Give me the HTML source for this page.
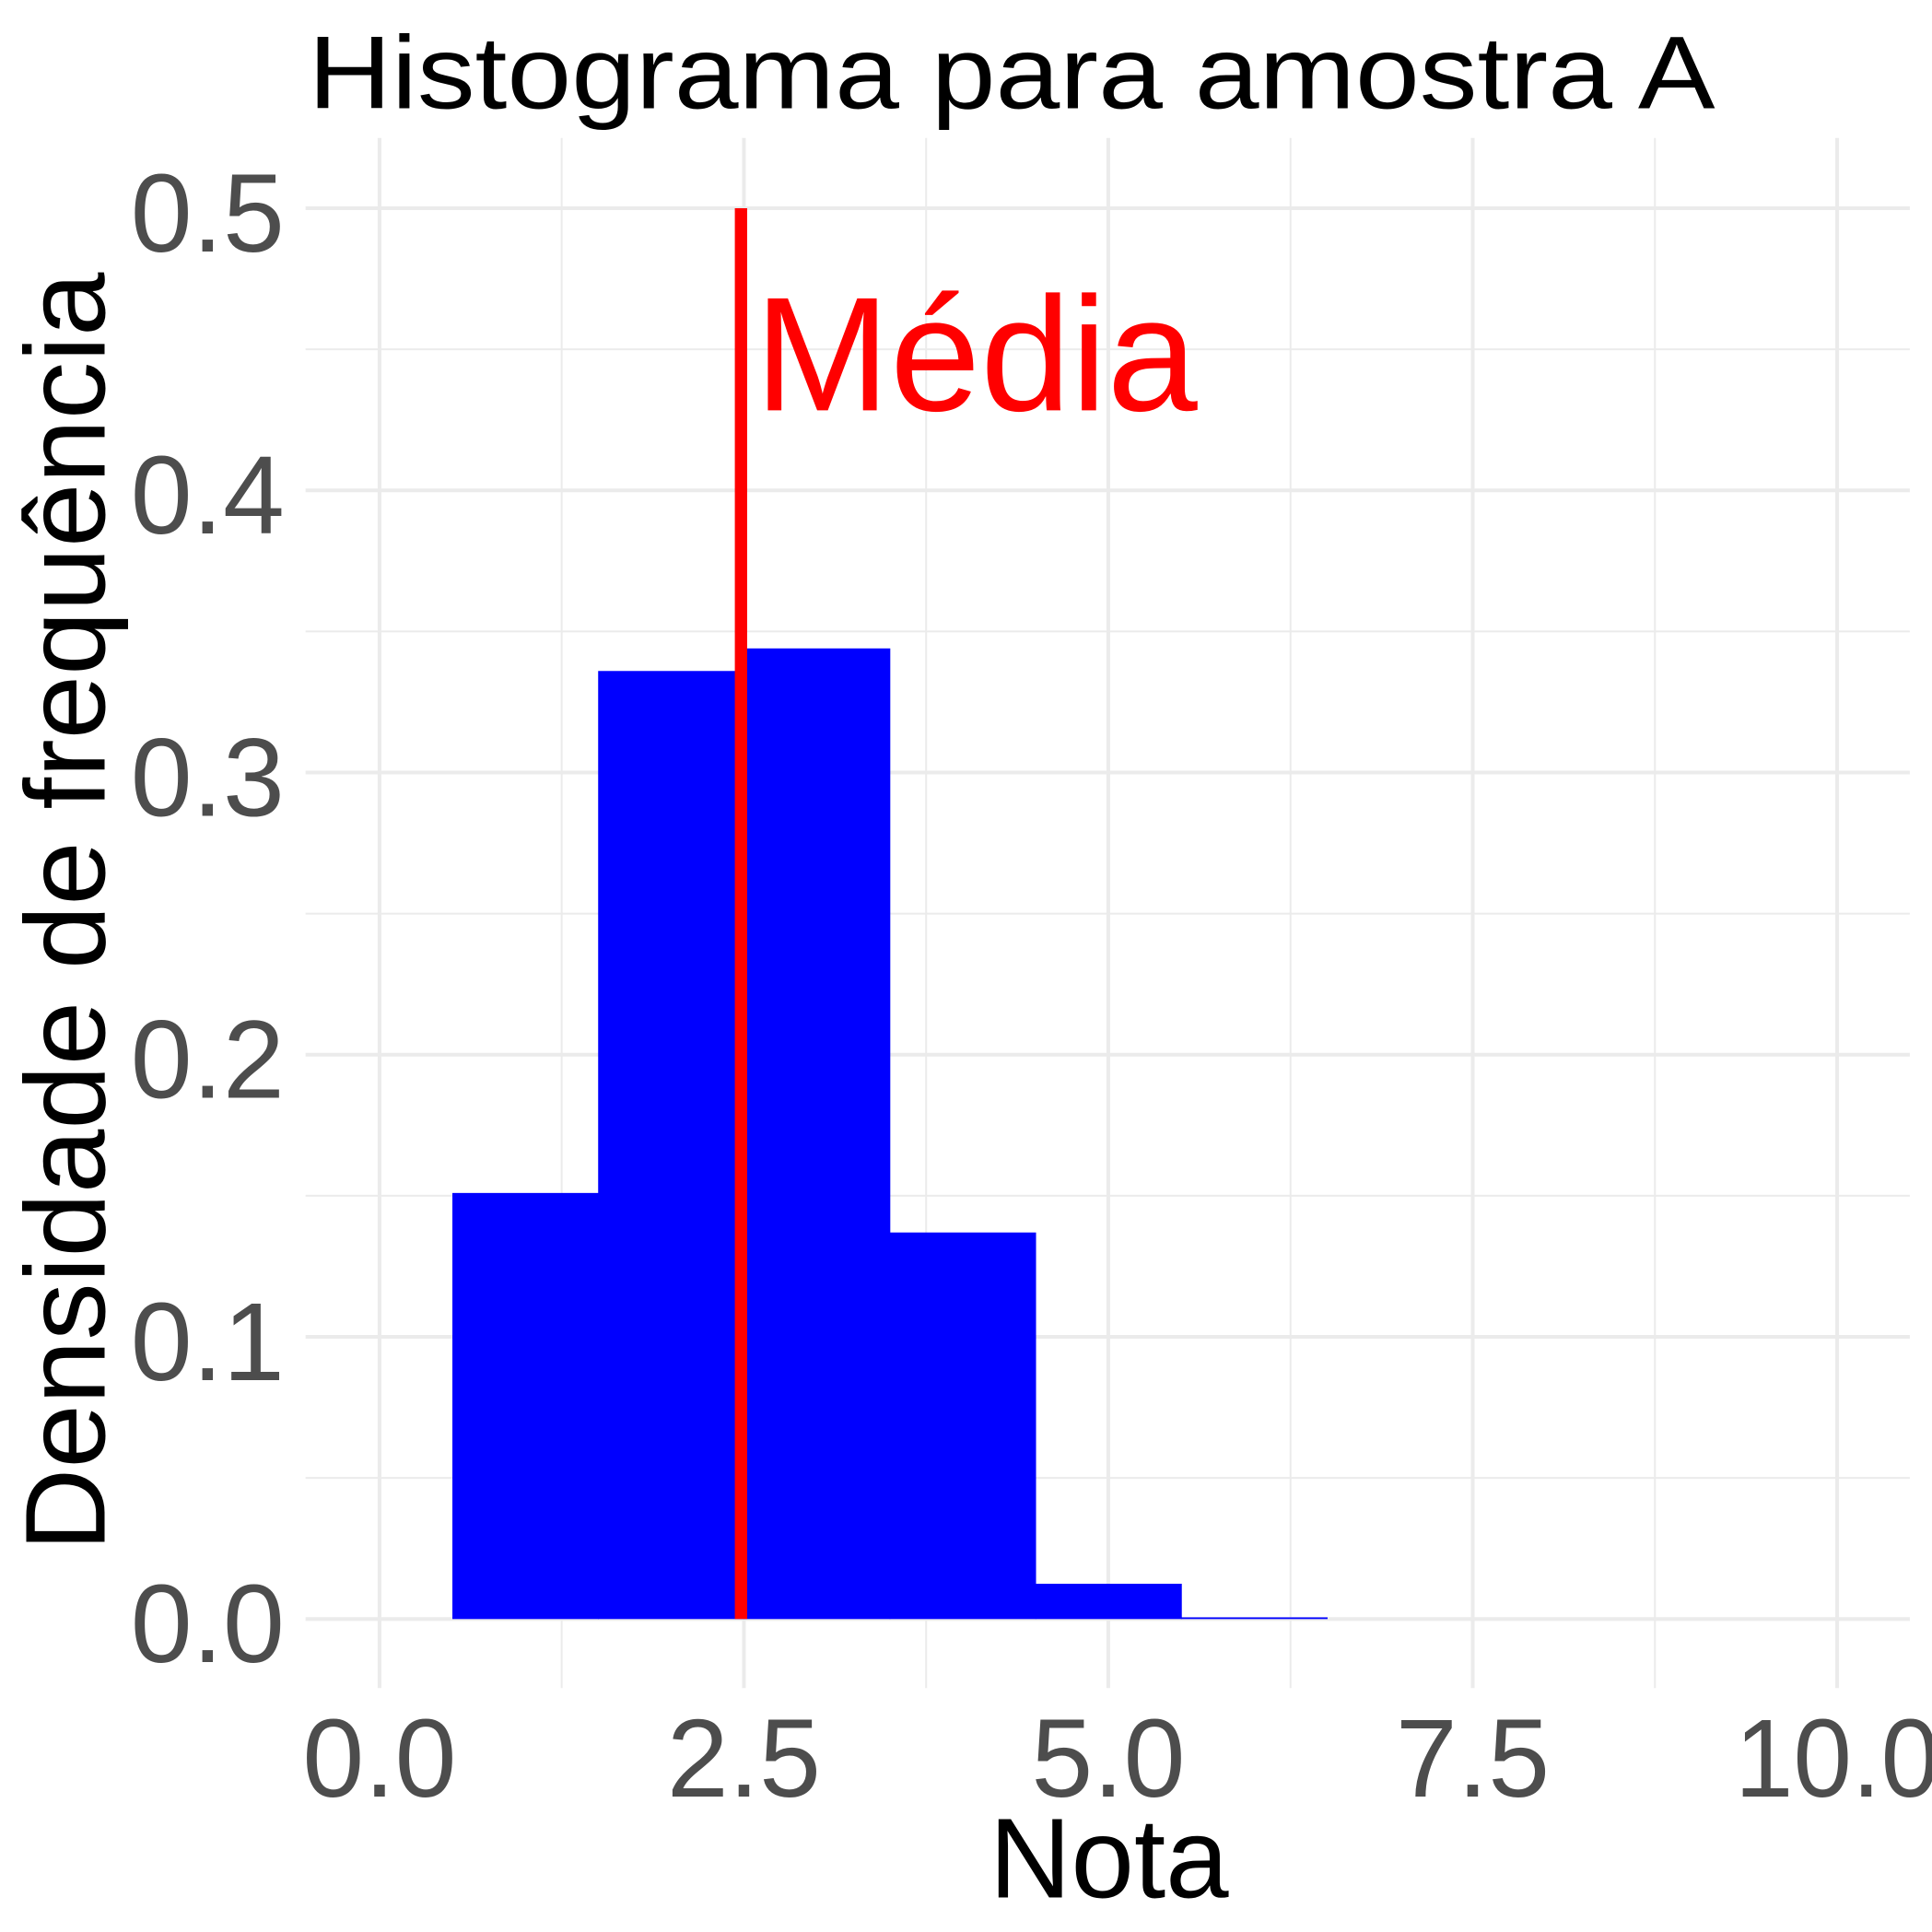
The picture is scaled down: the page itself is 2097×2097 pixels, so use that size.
<!DOCTYPE html>
<html><head><meta charset="utf-8"><style>html,body{margin:0;padding:0;background:#fff}svg{display:block}</style></head>
<body>
<svg id="chart" width="2097" height="2097" viewBox="0 0 1568 1568" xmlns="http://www.w3.org/2000/svg" font-family="'Liberation Sans', sans-serif">
<rect width="1568" height="1568" fill="#fff"/>
<g id="grid"></g>
<g id="bars"></g>
<g id="mean"></g>
<g id="axes"></g>
<text x="250" y="88" font-size="84" fill="#000" textLength="1142" lengthAdjust="spacingAndGlyphs">Histograma para amostra A</text>
<text x="900" y="1540" font-size="92" text-anchor="middle" fill="#000">Nota</text>
<text transform="translate(85,740) rotate(-90)" font-size="92" text-anchor="middle" fill="#000" textLength="1038" lengthAdjust="spacingAndGlyphs">Densidade de frequência</text>
</svg>
<script>
const binStarts = [0.5, 1.5, 2.5, 3.5, 4.5, 5.5];
const binWidth = 1;
const densities = [0.151, 0.336, 0.344, 0.137, 0.0125, 0.0006];
const meanValue = 2.48;
const xTicks = [0, 2.5, 5, 7.5, 10];
const xTickLabels = ["0.0", "2.5", "5.0", "7.5", "10.0"];
const yTicks = [0, 0.1, 0.2, 0.3, 0.4, 0.5];
const yTickLabels = ["0.0", "0.1", "0.2", "0.3", "0.4", "0.5"];
const NS = "http://www.w3.org/2000/svg";
const xs = v => 308 + v * 118.3;
const ys = v => 1314 - v * 2290;
function mk(parent, tag, attrs) {
  const e = document.createElementNS(NS, tag);
  for (const k in attrs) e.setAttribute(k, attrs[k]);
  document.getElementById(parent).appendChild(e);
  return e;
}
for (let i = 0; i < xTicks.length; i++) {
  const l = mk("grid", "line", {x1: xs(xTicks[i]), x2: xs(xTicks[i]), y1: 112, y2: 1370, stroke: "#ebebeb", "stroke-width": 3});
  
  
  if (i < xTicks.length - 1) {
    const m = mk("grid", "line", {x1: xs((xTicks[i] + xTicks[i+1]) / 2), x2: xs((xTicks[i] + xTicks[i+1]) / 2), y1: 112, y2: 1370, stroke: "#ebebeb", "stroke-width": 1.5});
    
    
  }
}
for (let i = 0; i < yTicks.length; i++) {
  const l = mk("grid", "line", {x1: 248, x2: 1550, y1: ys(yTicks[i]), y2: ys(yTicks[i]), stroke: "#ebebeb", "stroke-width": 3});
  
  
  if (i < yTicks.length - 1) {
    const m = mk("grid", "line", {x1: 248, x2: 1550, y1: ys((yTicks[i] + yTicks[i+1]) / 2), y2: ys((yTicks[i] + yTicks[i+1]) / 2), stroke: "#ebebeb", "stroke-width": 1.5});
    
    
  }
}
for (let i = 0; i < binStarts.length; i++) {
  const x0 = xs(binStarts[i]), x1 = xs(binStarts[i] + binWidth);
  const y0 = ys(densities[i]);
  const r = mk("bars", "rect", {x: x0, y: y0, width: x1 - x0 + 0.5, height: Math.max(ys(0) - y0, 1), fill: "#0000ff"});
  
  
}
const ml = mk("mean", "line", {x1: xs(meanValue), x2: xs(meanValue), y1: ys(0.5), y2: ys(0), stroke: "#ff0000", "stroke-width": 10});


const mt = mk("mean", "text", {x: xs(meanValue) + 11, y: 333, "font-size": 132, fill: "#ff0000"});
mt.textContent = "Média";


for (let i = 0; i < xTicks.length; i++) {
  const len = xTickLabels[i].length === 4 ? 166 : 125;
  const t = mk("axes", "text", {x: xs(xTicks[i]), y: 1458, "font-size": 90, fill: "#4d4d4d", "text-anchor": "middle", textLength: len, lengthAdjust: "spacingAndGlyphs"});
  t.textContent = xTickLabels[i];
  
  
}
for (let i = 0; i < yTicks.length; i++) {
  const t = mk("axes", "text", {x: 231, y: ys(yTicks[i]) + 35, "font-size": 90, fill: "#4d4d4d", "text-anchor": "end", textLength: 125, lengthAdjust: "spacingAndGlyphs"});
  t.textContent = yTickLabels[i];
  
  
}
</script>
</body></html>
